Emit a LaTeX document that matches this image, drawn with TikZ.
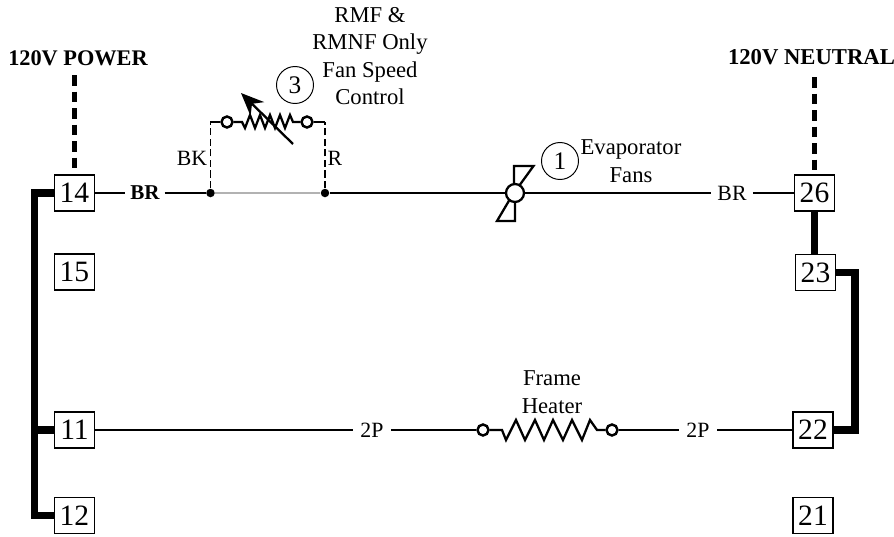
\documentclass[tikz,border=0pt]{standalone}
\usepackage{fontspec}
\setmainfont{Liberation Serif}
\usetikzlibrary{arrows.meta}
\tikzset{
	lbl/.style={font=\fontsize{6.45}{7.8}\selectfont, align=center, inner sep=0.5pt},
	wlbl/.style={font=\fontsize{6.2}{7}\selectfont, inner sep=1.2pt},
	tbox/.style={draw, line width=0.4pt, minimum width=0.4cm, minimum height=0.36cm, inner sep=0, font=\fontsize{8.4}{9}\selectfont},
	tag/.style={draw, circle, line width=0.28pt, minimum size=0.37cm, inner sep=0, font=\fontsize{7.2}{8}\selectfont},
	wire/.style={line width=0.3pt},
	bus/.style={line width=2pt},
	feed/.style={line width=1.15pt, dash pattern=on 3pt off 1.7pt},
	sym/.style={line width=0.65pt},
	term/.style={draw, circle, fill=white, line width=0.7pt, minimum size=0.11cm, inner sep=0},
	dot/.style={fill, circle, minimum size=0.085cm, inner sep=0}
}
\begin{document}
\begin{tikzpicture}
	\useasboundingbox (0,0) rectangle (8.94,5.36);
	% terminals
	\node[tbox] (t14) at (0.745, 3.43) {14};
	\node[tbox] (t15) at (0.745, 2.64) {15};
	\node[tbox] (t11) at (0.745, 1.06) {11};
	\node[tbox] (t12) at (0.745, 0.205) {12};
	\node[tbox] (t26) at (8.145, 3.43) {26};
	\node[tbox] (t23) at (8.155, 2.635) {23};
	\node[tbox] (t22) at (8.13, 1.06) {22};
	\node[tbox] (t21) at (8.13, 0.205) {21};
	% labels
	\node[lbl, font=\fontsize{6.35}{7.8}\selectfont\bfseries] (pwr) at (0.78, 4.78) {120V POWER};
	\node[lbl, font=\fontsize{6.45}{7.8}\selectfont\bfseries] (ntr) at (8.115, 4.79) {120V NEUTRAL};
	\node[lbl] (rmf) at (3.70, 4.80) {RMF \&\\RMNF Only\\Fan Speed\\Control};
	\node[lbl] (evap) at (6.31, 3.75) {Evaporator\\Fans};
	\node[lbl] (frame) at (5.52, 1.44) {Frame\\Heater};
	\node[wlbl] (bk) at (1.92, 3.78) {BK};
	\node[wlbl] (rd) at (3.35, 3.78) {R};
	\node[tag] (tag3) at (2.95, 4.51) {3};
	\node[tag] (tag1) at (5.60, 3.75) {1};
	% wire labels
	\node[wlbl, font=\fontsize{6}{7}\selectfont\bfseries] (brl) at (1.45, 3.43) {BR};
	\node[wlbl, inner sep=1.6pt] (brr) at (7.32, 3.43) {BR};
	\node[wlbl, inner sep=2pt] (pl) at (3.72, 1.06) {2P};
	\node[wlbl, inner sep=2pt] (pr) at (6.98, 1.06) {2P};
	% junctions
	\node[dot] (dl) at (2.105, 3.43) {};
	\node[dot] (dr) at (3.25, 3.43) {};
	\coordinate (cl) at (2.105, 4.14);
	\coordinate (cr) at (3.25, 4.14);
	\coordinate (b14) at (0.345, 3.43);
	\coordinate (b11) at (0.345, 1.06);
	\coordinate (b12) at (0.345, 0.205);
	\coordinate (c23) at (8.55, 2.635);
	\coordinate (c22) at (8.55, 1.06);
	\coordinate (p14) at (0.745, 4.61);
	\coordinate (p26) at (8.145, 4.59);
	% fan
	\draw[sym] (5.14, 3.52)--(5.14, 3.70)--(5.335, 3.70)--(5.19, 3.50);
	\draw[sym] (5.15, 3.34)--(5.15, 3.15)--(4.97, 3.15)--(5.10, 3.37);
	\node[draw, circle, fill=white, line width=0.65pt, minimum size=0.18cm, inner sep=0] (fan) at (5.15, 3.43) {};
	% resistors
	\node[term] (rl) at (2.27, 4.14) {};
	\node[term] (rr) at (3.07, 4.14) {};
	\node[term] (hl) at (4.83, 1.06) {};
	\node[term] (hr) at (6.12, 1.06) {};
	\draw[sym] (rl)--(2.42, 4.14)--(2.45, 4.08)--(2.50, 4.21)--(2.55, 4.08)--(2.60, 4.21)--(2.65, 4.08)--(2.70, 4.21)--(2.75, 4.08)--(2.80, 4.21)--(2.85, 4.08)--(2.90, 4.21)--(2.93, 4.14)--(rr);
	\draw[sym] (hl)--(5.02, 1.06)--(5.06, 0.96)--(5.16, 1.16)--(5.25, 0.96)--(5.35, 1.16)--(5.44, 0.96)--(5.53, 1.16)--(5.63, 0.96)--(5.72, 1.16)--(5.82, 0.96)--(5.90, 1.16)--(5.97, 1.06)--(hr);
	\draw[sym, -{Stealth[length=6.5pt, width=5.5pt]}] (2.93, 3.92)--(2.41, 4.43);
	% wires
	\draw[wire] (t14)--(brl);
	\draw[wire] (brl)--(dl);
	\draw[wire, gray!60] (dl)--(dr);
	\draw[wire] (dr)--(fan);
	\draw[wire] (fan)--(brr);
	\draw[wire] (brr)--(t26);
	\draw[wire, dash pattern=on 2pt off 1pt] (dl)--(cl);
	\draw[wire, dash pattern=on 2pt off 1pt] (dr)--(cr);
	\draw[wire] (cl)--(rl);
	\draw[wire] (cr)--(rr);
	\draw[wire] (t11)--(pl);
	\draw[wire] (pl)--(hl);
	\draw[wire] (hr)--(pr);
	\draw[wire] (pr)--(t22);
	\draw[feed] (p14)--(t14);
	\draw[feed] (p26)--(t26);
	\draw[bus] (t14)--(b14)--(b12)--(t12);
	\draw[bus] (b11)--(t11);
	\draw[bus] (t26.south)--(t26.south |- t23.north);
	\draw[bus] (t23)--(c23)--(c22)--(t22);
\end{tikzpicture}
\end{document}
